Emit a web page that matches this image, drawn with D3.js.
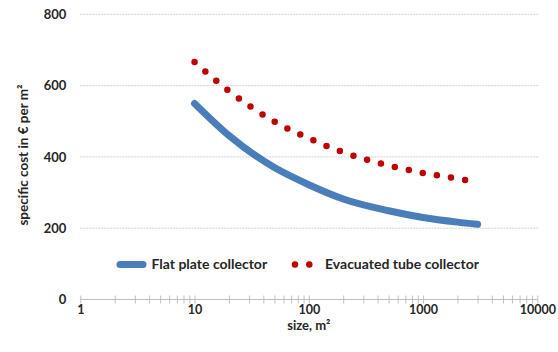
<!DOCTYPE html>
<html>
<head>
<meta charset="utf-8">
<script src="https://cdn.jsdelivr.net/npm/d3@7"></script>
<style>
    body{ margin:0; background:#fff; }
    svg text{ font-family: Lato, "Open Sans", sans-serif; font-weight:bold; fill:#262626; }
</style>
</head>
<body>
<svg id="chart" width="558" height="352"></svg>
<script>
// values
const flatSizes = [10, 20, 50, 100, 200, 500, 1000, 2000, 3000];
const flatCost = [550, 460, 370, 322, 282, 249, 230, 217, 211];
const tubeSizes = [10, 20, 50, 100, 200, 500, 1000, 2000, 2500];
const tubeCost = [666, 585, 499, 452, 413, 376, 355, 339, 334];
const yTicks = [0, 200, 400, 600, 800];
const xDecades = [1, 10, 100, 1000, 10000];
const seriesNames = ["Flat plate collector", "Evacuated tube collector"];

const BLUE = "#4a7ebb";
const RED = "#c00000";

window.onload = function(e){
    drawChart();
};

function drawChart(){
    let svg = d3.select("#chart");
    let left = 80.3, right = 537.3, top = 14.3, bottom = 299.5;

    let x = d3.scaleLog().domain([1, 10000]).range([left, right]);
    let y = d3.scaleLinear().domain([0, 800]).range([bottom, top]);

    //Dotted gridlines (not for 0, that is the axis)
    svg.append("g").selectAll("line")
        .data(yTicks.filter(d=>d>0))
        .enter().append("line")
            .attr("x1", left).attr("x2", 539)
            .attr("y1", d=>y(d)).attr("y2", d=>y(d))
            .attr("stroke", "#d0d0d0")
            .attr("stroke-width", 1)
            .attr("stroke-dasharray", "2,1");

    //Y axis labels only
    let yAxis = svg.append("g")
        .attr("transform", `translate(${left - 14}, 0)`)
        .call(d3.axisLeft(y).tickValues(yTicks).tickSize(0).tickPadding(0));
    yAxis.select(".domain").remove();
    yAxis.selectAll("text").style("font-size", "13px");

    //X axis with minor log ticks crossing the line
    let allTicks = [];
    for (let d of xDecades.slice(0, -1)){
        for (let k=1; k<10; k++) allTicks.push(d*k);
    }
    allTicks.push(10000);
    let xAxis = svg.append("g")
        .attr("transform", `translate(0, ${bottom})`)
        .call(d3.axisBottom(x).tickValues(allTicks).tickSize(4).tickPadding(2)
            .tickFormat(d=>xDecades.includes(d) ? d3.format("d")(d) : ""));
    xAxis.select(".domain").attr("stroke", "#bfbfbf").attr("d", `M${left},0H${right}`);
    xAxis.selectAll(".tick line").attr("stroke", "#bfbfbf").attr("y1", -4).attr("y2", 4);
    xAxis.selectAll("text").style("font-size", "12.5px");

    //Axis titles
    svg.append("text")
        .attr("x", x(100)).attr("y", 329.5)
        .attr("text-anchor", "middle")
        .style("font-size", "13px")
        .text("size, m²");
    svg.append("text")
        .attr("transform", "translate(28, 155) rotate(-90)")
        .attr("text-anchor", "middle")
        .style("font-size", "13.5px")
        .text("specific cost in € per m²");

    let line = d3.line()
        .x(d=>x(d[0]))
        .y(d=>y(d[1]))
        .curve(d3.curveMonotoneX);

    //Flat plate: thick blue line
    svg.append("path")
        .datum(d3.zip(flatSizes, flatCost))
        .attr("d", line)
        .attr("fill", "none")
        .attr("stroke", BLUE)
        .attr("stroke-width", 7)
        .attr("stroke-linecap", "round");

    //Evacuated tube: round dotted red line
    svg.append("path")
        .datum(d3.zip(tubeSizes, tubeCost))
        .attr("d", line)
        .attr("fill", "none")
        .attr("stroke", RED)
        .attr("stroke-width", 6.5)
        .attr("stroke-linecap", "round")
        .attr("stroke-dasharray", "0,14.3");

    //Legend
    let legendY = 264.5;
    svg.append("line")
        .attr("x1", 120).attr("x2", 143)
        .attr("y1", legendY).attr("y2", legendY)
        .attr("stroke", BLUE).attr("stroke-width", 7)
        .attr("stroke-linecap", "round");
    svg.append("text")
        .attr("x", 151.5).attr("y", legendY).attr("dy", "0.35em")
        .style("font-size", "14px")
        .text(seriesNames[0]);
    svg.append("line")
        .attr("x1", 295).attr("x2", 310)
        .attr("y1", legendY).attr("y2", legendY)
        .attr("stroke", RED).attr("stroke-width", 6.5)
        .attr("stroke-linecap", "round")
        .attr("stroke-dasharray", "0,14.3");
    svg.append("text")
        .attr("x", 325).attr("y", legendY).attr("dy", "0.35em")
        .style("font-size", "14px")
        .text(seriesNames[1]);
}
</script>
</body>
</html>
